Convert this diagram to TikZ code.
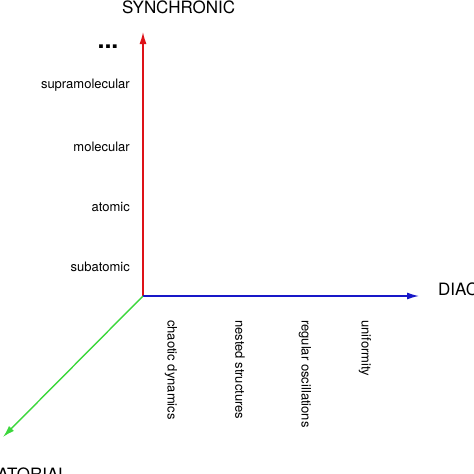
\documentclass[tikz,border=0pt]{standalone}
\usepackage{fontspec}
\setmainfont{TeX Gyre Heros}
\usetikzlibrary{arrows.meta}
\definecolor{axred}{RGB}{222,18,24}
\definecolor{axblue}{RGB}{24,24,200}
\definecolor{axgreen}{RGB}{60,215,60}
\tikzset{
  axis/.style={line width=1.4pt,-{Latex[length=12pt,width=7pt]}},
  lvl/.style={font=\fontsize{13}{15}\selectfont,inner sep=0pt,anchor=east},
  dyn/.style={font=\fontsize{13}{15}\selectfont,inner sep=0pt,anchor=west,rotate=-90},
  title/.style={font=\fontsize{17}{20}\selectfont,inner sep=0pt}
}
\begin{document}
\begin{tikzpicture}[x=1pt,y=-1pt]
\useasboundingbox (0,0) rectangle (474,474);
\clip (0,0) rectangle (474,474);
\coordinate (O) at (143,296);
\coordinate (ytip) at (143,32);
\coordinate (xtip) at (419,296);
\coordinate (ztip) at (3,437);
\draw[axis,axred] (O) -- (ytip);
\draw[axis,axblue] (O) -- (xtip);
\draw[axis,axgreen] (O) -- (ztip);
\node[title,anchor=base west] (syn) at (122,13) {SYNCHRONIC};
\node[title,anchor=base west] (dia) at (438,295) {DIAC};
\node[title,anchor=base east] (comb) at (68,480) {ATORIAL};
\node[font=\fontsize{25}{28}\selectfont\bfseries,inner sep=0pt,anchor=base] (dots) at (108,48.5) {...};
\node[lvl] (supra) at (130,85) {supramolecular};
\node[lvl] (mol) at (130,147) {molecular};
\node[lvl] (atom) at (130,207) {atomic};
\node[lvl] (sub) at (130,267) {subatomic};
\node[dyn] (chaos) at (171,320) {chaotic dynamics};
\node[dyn] (nest) at (240,320) {nested structures};
\node[dyn] (reg) at (305,320) {regular oscillations};
\node[dyn] (unif) at (365,320) {uniformity};
\end{tikzpicture}
\end{document}
